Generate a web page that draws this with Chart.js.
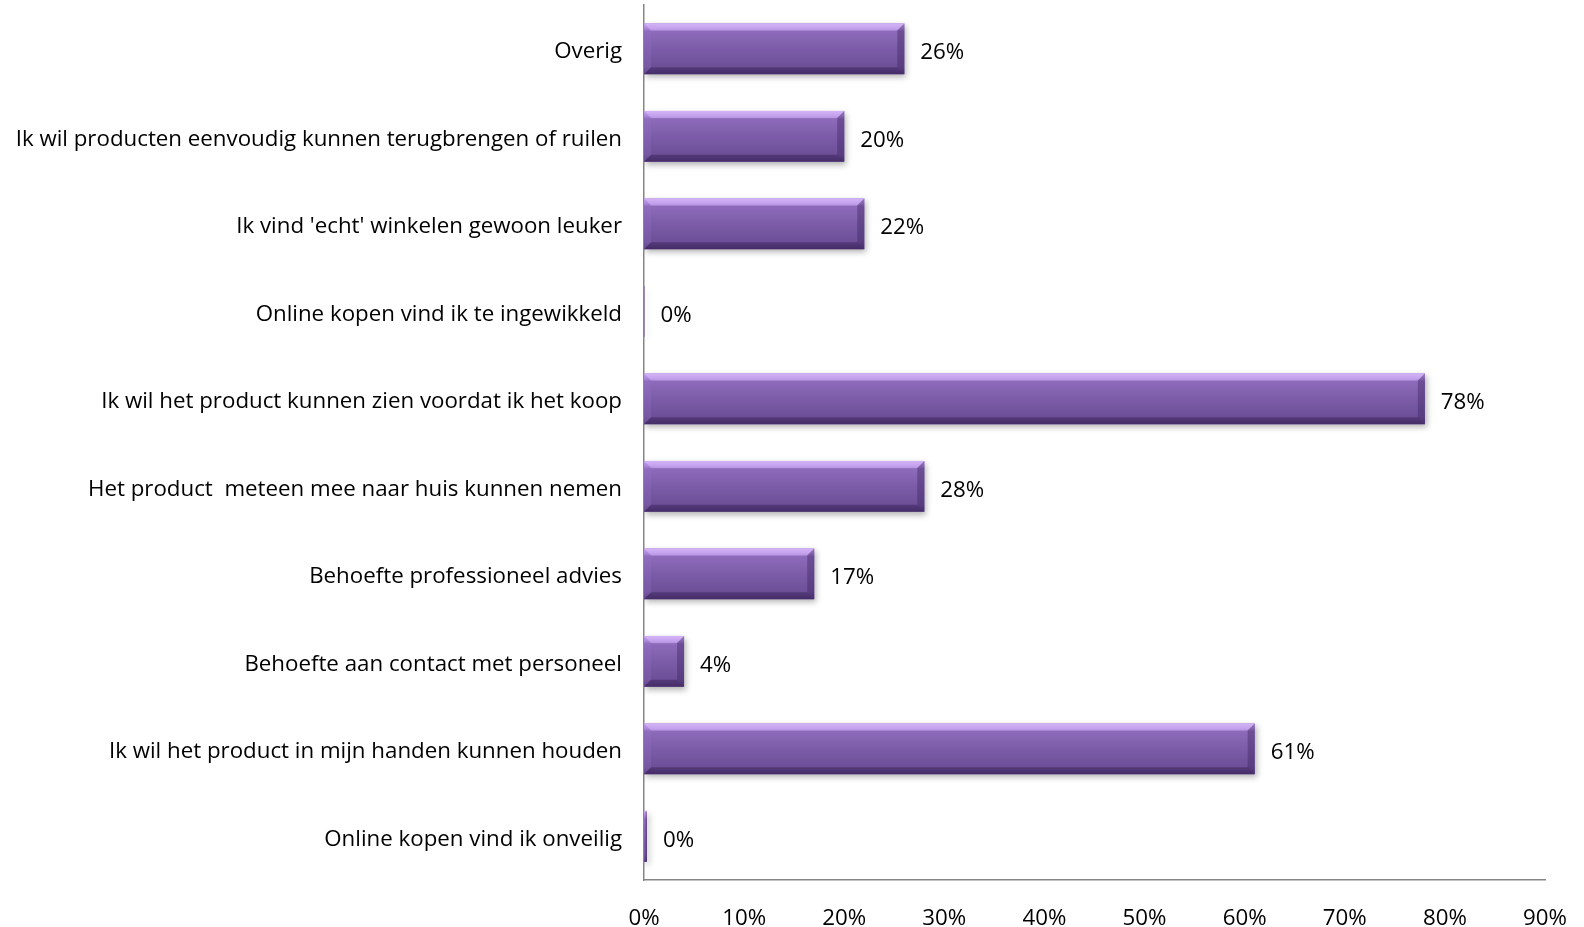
<!DOCTYPE html>
<html>
<head>
<meta charset="utf-8">
<script src="https://cdn.jsdelivr.net/npm/chart.js@4.4.1/dist/chart.umd.min.js"></script>
<style>
  html, body { margin: 0; padding: 0; background: #ffffff; }
  #wrap { width: 1584px; height: 927px; position: relative; }
</style>
</head>
<body>
<div id="wrap"><canvas id="c" width="1584" height="927"></canvas></div>
<script>
// Redenen om niet online te kopen (aandeel respondenten, %)
const categories = [
  "Overig",
  "Ik wil producten eenvoudig kunnen terugbrengen of ruilen",
  "Ik vind 'echt' winkelen gewoon leuker",
  "Online kopen vind ik te ingewikkeld",
  "Ik wil het product kunnen zien voordat ik het koop",
  "Het product  meteen mee naar huis kunnen nemen",
  "Behoefte professioneel advies",
  "Behoefte aan contact met personeel",
  "Ik wil het product in mijn handen kunnen houden",
  "Online kopen vind ik onveilig"
];
const shares = [26, 20, 22, 0.05, 78, 28, 17, 4, 61, 0.3];
const axisTicks = [0, 10, 20, 30, 40, 50, 60, 70, 80, 90];

const FONT = "'Open Sans', 'DejaVu Sans', sans-serif";
const FONT_SIZE = 22.3;

// Soft drop shadow under the bars
const barShadow = {
  id: 'barShadow',
  beforeDatasetDraw(chart) {
    const ctx = chart.ctx;
    ctx.save();
    ctx.shadowColor = 'rgba(0,0,0,0.30)';
    ctx.shadowBlur = 6;
    ctx.shadowOffsetX = 2;
    ctx.shadowOffsetY = 3;
  },
  afterDatasetDraw(chart) {
    chart.ctx.restore();
  }
};

// Bevelled face on every bar plus the value label to its right
const bevel = {
  id: 'bevel',
  afterDatasetsDraw(chart) {
    const ctx = chart.ctx;
    const meta = chart.getDatasetMeta(0);
    meta.data.forEach((bar, i) => {
      const p = bar.getProps(['x', 'y', 'base', 'height'], true);
      const left = Math.min(p.base, p.x), right = Math.max(p.base, p.x);
      const top = p.y - p.height / 2, bottom = p.y + p.height / 2;
      const w = right - left, h = bottom - top;
      ctx.save();
      if (w > 1) {
        const g = ctx.createLinearGradient(0, top, 0, bottom);
        g.addColorStop(0, '#d2b2f6');
        g.addColorStop(0.1, '#b48ee0');
        g.addColorStop(0.16, '#8d6bba');
        g.addColorStop(0.5, '#7c5ca9');
        g.addColorStop(0.86, '#6c4f97');
        g.addColorStop(1, '#523977');
        ctx.fillStyle = g;
        ctx.fillRect(left, top, w, h);
        const b = Math.min(7, w / 2);
        // top bevel
        ctx.fillStyle = 'rgba(215,185,250,0.45)';
        ctx.beginPath();
        ctx.moveTo(left, top); ctx.lineTo(right, top);
        ctx.lineTo(right - b, top + b); ctx.lineTo(left + b, top + b);
        ctx.closePath(); ctx.fill();
        // right bevel
        ctx.fillStyle = 'rgba(60,35,95,0.40)';
        ctx.beginPath();
        ctx.moveTo(right, top); ctx.lineTo(right, bottom);
        ctx.lineTo(right - b, bottom - b); ctx.lineTo(right - b, top + b);
        ctx.closePath(); ctx.fill();
        // bottom bevel
        ctx.fillStyle = 'rgba(50,28,80,0.40)';
        ctx.beginPath();
        ctx.moveTo(left, bottom); ctx.lineTo(right, bottom);
        ctx.lineTo(right - b, bottom - b); ctx.lineTo(left + b, bottom - b);
        ctx.closePath(); ctx.fill();
        // left bevel
        ctx.fillStyle = 'rgba(150,115,200,0.25)';
        ctx.beginPath();
        ctx.moveTo(left, top); ctx.lineTo(left, bottom);
        ctx.lineTo(left + b, bottom - b); ctx.lineTo(left + b, top + b);
        ctx.closePath(); ctx.fill();
      }
      ctx.fillStyle = '#000000';
      ctx.font = FONT_SIZE + 'px ' + FONT;
      ctx.textAlign = 'left';
      ctx.textBaseline = 'middle';
      ctx.fillText(Math.round(shares[i]) + '%', right + 16, p.y + 4);
      ctx.restore();
    });
  }
};

new Chart(document.getElementById('c'), {
  type: 'bar',
  data: {
    labels: categories,
    datasets: [{
      data: shares,
      backgroundColor: '#7c5ca9',
      borderWidth: 0,
      categoryPercentage: 1,
      barPercentage: 0.58
    }]
  },
  options: {
    indexAxis: 'y',
    responsive: false,
    animation: false,
    devicePixelRatio: 1,
    layout: { padding: { left: 0, right: 39, top: 5, bottom: 0 } },
    plugins: { legend: { display: false }, tooltip: { enabled: false } },
    scales: {
      x: {
        min: 0,
        max: 90,
        afterBuildTicks(scale) { scale.ticks = axisTicks.map(v => ({ value: v })); },
        grid: { display: false, drawTicks: false },
        border: { display: true, color: '#868686', width: 1.5 },
        ticks: {
          padding: 25,
          color: '#000000',
          font: { family: FONT, size: FONT_SIZE },
          callback: v => v + '%',
          maxRotation: 0
        },
        afterFit(scale) {
          scale.height = 47;
          scale.paddingLeft = 0;
          scale.paddingRight = 0;
        }
      },
      y: {
        grid: { display: false, drawTicks: false },
        border: { display: true, color: '#868686', width: 1.5 },
        ticks: {
          padding: 22,
          labelOffset: 3,
          color: '#000000',
          font: { family: FONT, size: FONT_SIZE }
        },
        afterFit(scale) {
          scale.width = 644;
          scale.paddingTop = 0;
          scale.paddingBottom = 0;
        }
      }
    }
  },
  plugins: [barShadow, bevel]
});
</script>
</body>
</html>
